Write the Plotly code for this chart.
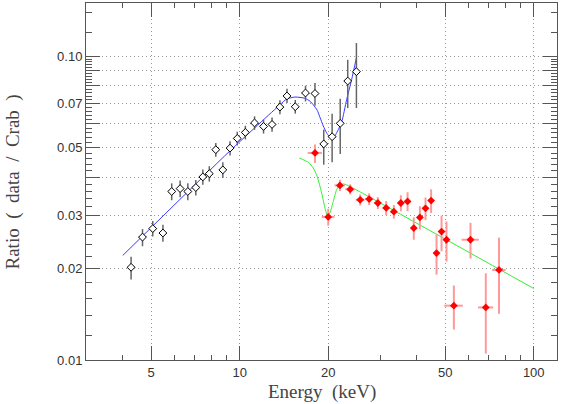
import plotly.graph_objects as go

# black (open diamond) spectrum ratio
E_BLK = [4.27, 4.67, 5.06, 5.48, 5.87, 6.27, 6.66, 7.09, 7.49, 7.88, 8.29, 8.76, 9.27, 9.81,
         10.45, 11.23, 12.05, 12.88, 13.70, 14.48, 15.45, 16.74, 18.03, 19.31, 20.62, 21.97,
         23.30, 24.94]
R_BLK = [0.0202, 0.0254, 0.0271, 0.0262, 0.0359, 0.0367, 0.0359, 0.0370, 0.0401, 0.0411,
         0.0493, 0.0423, 0.0499, 0.0537, 0.0562, 0.0604, 0.0588, 0.0597, 0.0681, 0.0741,
         0.0683, 0.0758, 0.0755, 0.0515, 0.0544, 0.0602, 0.0830, 0.0891]
R_BLK_UP = [0.0017, 0.0016, 0.0016, 0.0017, 0.0023, 0.0023, 0.0023, 0.0022, 0.0023, 0.0024,
            0.0026, 0.0025, 0.0027, 0.0028, 0.0029, 0.0031, 0.0031, 0.0032, 0.0036, 0.0041,
            0.0036, 0.0043, 0.0063, 0.0059, 0.0104, 0.0124, 0.0145, 0.0216]
R_BLK_DN = [0.0018, 0.0017, 0.0016, 0.0017, 0.0023, 0.0023, 0.0023, 0.0022, 0.0023, 0.0024,
            0.0026, 0.0025, 0.0027, 0.0028, 0.0029, 0.0031, 0.0031, 0.0032, 0.0036, 0.0038,
            0.0035, 0.0047, 0.0067, 0.0075, 0.0096, 0.0125, 0.0154, 0.0215]
E_BLK_ERR = [0.13, 0.14, 0.15, 0.16, 0.17, 0.18, 0.19, 0.21, 0.22, 0.23, 0.24, 0.26, 0.27, 0.29,
             0.31, 0.33, 0.35, 0.38, 0.40, 0.42, 0.45, 0.49, 0.52, 0.56, 0.60, 0.64, 0.68, 0.72]

# red (filled diamond) spectrum ratio
E_RED = [18.03, 20.0, 21.92, 23.75, 25.69, 27.56, 29.5, 31.49, 33.44, 35.32, 37.23, 39.09,
         41.0, 42.85, 44.77, 46.71, 48.58, 50.5, 53.5, 60.95, 68.7, 76.2]
R_RED = [0.0481, 0.0296, 0.0376, 0.0365, 0.0337, 0.0339, 0.0329, 0.0317, 0.0308, 0.0329,
         0.0333, 0.0272, 0.0295, 0.0316, 0.0335, 0.0225, 0.0265, 0.0249, 0.0151, 0.0249,
         0.0149, 0.0198]
R_RED_UP = [0.0032, 0.0019, 0.0016, 0.0014, 0.0014, 0.0015, 0.0015, 0.0017, 0.0016, 0.0020,
            0.0024, 0.0023, 0.0026, 0.0027, 0.0030, 0.0034, 0.0034, 0.0037, 0.0025, 0.0034,
            0.0044, 0.0055]
R_RED_DN = [0.0035, 0.0019, 0.0016, 0.0014, 0.0014, 0.0015, 0.0015, 0.0017, 0.0016, 0.0020,
            0.0024, 0.0023, 0.0026, 0.0027, 0.0030, 0.0034, 0.0037, 0.0038, 0.0025, 0.0033,
            0.0044, 0.0056]
E_RED_ERR = [1.0, 1.0, 0.9, 0.9, 0.9, 0.9, 0.9, 0.9, 0.9, 0.9, 0.9, 0.9, 0.9, 0.9, 0.9,
             1.0, 1.0, 1.0, 3.9, 4.1, 4.05, 4.0]

# model curves
E_FIT_BLUE = [4.00, 9.27, 13.70, 14.44, 15.41, 16.67, 17.34, 17.79, 18.35, 18.75, 19.24,
              19.75, 20.10, 20.54, 21.00, 21.36, 22.21, 23.10, 24.02, 24.94]
R_FIT_BLUE = [0.0221, 0.0489, 0.0693, 0.0724, 0.0735, 0.0728, 0.0712, 0.0693, 0.0665, 0.0630,
              0.0590, 0.0560, 0.0547, 0.0540, 0.0545, 0.0560, 0.0607, 0.0720, 0.0838, 0.0990]
E_FIT_GREEN = [15.94, 17.11, 17.79, 18.35, 19.0, 19.49, 19.91, 20.27, 20.80, 21.36, 21.92,
               22.62, 23.70, 100.0]
R_FIT_GREEN = [0.0463, 0.0448, 0.0429, 0.0402, 0.0355, 0.0317, 0.0297, 0.0305, 0.0333,
               0.0364, 0.0378, 0.0380, 0.0373, 0.0172]

X_MAJOR = [5, 10, 20, 50, 100]
X_MINOR = [4, 6, 7, 8, 9, 30, 40, 60, 70, 80, 90]
Y_MAJOR = [0.01, 0.02, 0.03, 0.04, 0.05, 0.06, 0.07, 0.08, 0.09, 0.10]
Y_LABELS = ["0.01", "0.02", "0.03", "", "0.05", "", "0.07", "", "", "0.10"]
Y_MINOR = [round(0.01 + 0.002 * i, 3) for i in range(46) if i % 5] + [0.12, 0.14]

AXIS_COLOR = "#555555"
TICK_FONT = {"family": "Liberation Sans", "size": 13, "color": "#333333"}
TITLE_FONT = {"family": "Liberation Serif", "size": 19, "color": "#444444"}

fig = go.Figure()
fig.add_trace(go.Scatter(x=E_FIT_BLUE, y=R_FIT_BLUE, mode="lines",
                         line={"color": "#3a3aff", "width": 1, "shape": "spline", "smoothing": 0.6}))
fig.add_trace(go.Scatter(x=E_FIT_GREEN, y=R_FIT_GREEN, mode="lines",
                         line={"color": "#33ee33", "width": 1, "shape": "spline", "smoothing": 0.5}))
fig.add_trace(go.Scatter(
    x=E_BLK, y=R_BLK, mode="markers",
    marker={"symbol": "diamond", "size": 6, "color": "white", "line": {"color": "black", "width": 1}},
    error_y={"type": "data", "array": R_BLK_UP, "arrayminus": R_BLK_DN,
             "color": "#666666", "thickness": 1.5, "width": 0},
    error_x={"type": "data", "array": E_BLK_ERR, "color": "#666666", "thickness": 1.5, "width": 0},
))
fig.add_trace(go.Scatter(
    x=E_RED, y=R_RED, mode="markers",
    marker={"symbol": "diamond", "size": 6, "color": "#ff0000"},
    error_y={"type": "data", "array": R_RED_UP, "arrayminus": R_RED_DN,
             "color": "#ff9999", "thickness": 2, "width": 0},
    error_x={"type": "data", "array": E_RED_ERR, "color": "#ff9999", "thickness": 2, "width": 0},
))

axis_common = dict(
    type="log", showline=True, linecolor=AXIS_COLOR, linewidth=1, mirror="allticks",
    ticks="inside", ticklen=14, tickcolor=AXIS_COLOR, tickwidth=1,
    showgrid=True, gridcolor="#9a9a9a", gridwidth=1, griddash="1px,3px",
    tickfont=TICK_FONT, zeroline=False,
)
fig.update_xaxes(
    range=[0.4771, 2.0792], tickmode="array", tickvals=X_MAJOR, ticktext=[str(v) for v in X_MAJOR],
    minor={"tickmode": "array", "tickvals": X_MINOR, "ticks": "inside", "ticklen": 5,
           "tickcolor": AXIS_COLOR, "showgrid": False},
    **axis_common,
)
fig.update_yaxes(
    range=[-2, -0.8239], tickmode="array", tickvals=Y_MAJOR, ticktext=Y_LABELS,
    minor={"tickmode": "array", "tickvals": Y_MINOR, "ticks": "inside", "ticklen": 6,
           "tickcolor": AXIS_COLOR, "showgrid": False},
    **axis_common,
)

fig.add_annotation(text="Energy\u2002(keV)", xref="paper", yref="paper", x=0.5, y=-0.09,
                   xanchor="center", yanchor="middle", showarrow=False, font=TITLE_FONT)
fig.add_annotation(text="Ratio\u2002(\u2002data\u2002/\u2002Crab\u2002)", xref="paper", yref="paper",
                   x=-0.155, y=0.5, textangle=-90, xanchor="center", yanchor="middle",
                   showarrow=False, font=TITLE_FONT)

fig.update_layout(
    width=561, height=404,
    margin={"l": 86, "r": 4, "t": 3, "b": 44},
    paper_bgcolor="white", plot_bgcolor="white",
    showlegend=False,
)

fig.write_html("out.html", config={"displayModeBar": False},
               post_script="document.body.style.margin='0';")
